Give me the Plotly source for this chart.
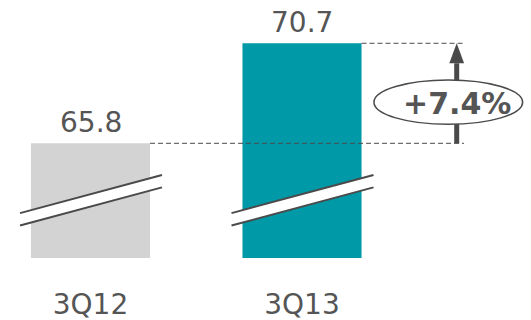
import plotly.graph_objects as go

# Quarterly values
categories = ["3Q12", "3Q13"]
values = [65.8, 70.7]
bar_colors = ["#d3d3d3", "#0099a8"]

W, H = 531, 320
MARGIN_B = 62
PLOT_H = H - MARGIN_B

# Pixel scale of the broken value axis
X0 = 90.5          # pixel centre of the first bar
SX = 211.5         # pixels between bar centres
PPU = 20.41        # pixels per value unit
BASE = 60.18       # value at the bottom of the plot area (axis is broken)
BAR_W = 0.563

TEXT = "#555555"
INK = "#4a4a4a"
FONT = "DejaVu Sans"


def dx(p):
    """horizontal pixel -> x data"""
    return (p - X0) / SX


def dy(p):
    """vertical pixel -> y data"""
    return BASE + (PLOT_H - p) / PPU


fig = go.Figure()
fig.add_trace(go.Bar(
    x=list(range(len(categories))), y=values, width=BAR_W,
    marker=dict(color=bar_colors, line=dict(width=0)),
    hoverinfo="skip",
))

shapes = []
annotations = []

# value labels above bars
for i, v in enumerate(values):
    annotations.append(dict(
        x=i, y=v, xref="x", yref="y", text=f"{v:.1f}", showarrow=False,
        yanchor="bottom", yshift=2,
        font=dict(family=FONT, size=28, color=TEXT),
    ))

# axis-break marks across each bar
for i in range(len(values)):
    cx = X0 + i * SX
    xl, xr = cx - 70.5, cx + 71.5
    yl, yr = 213.1, 175.0
    gap = 12.4
    shapes.append(dict(
        type="path", xref="x", yref="y", layer="above",
        path=(f"M{dx(xl)},{dy(yl)} L{dx(xr)},{dy(yr)} "
              f"L{dx(xr)},{dy(yr + gap)} L{dx(xl)},{dy(yl + gap)} Z"),
        fillcolor="white", line=dict(width=0),
    ))
    for off in (0, gap):
        shapes.append(dict(
            type="line", xref="x", yref="y", layer="above",
            x0=dx(xl), y0=dy(yl + off), x1=dx(xr), y1=dy(yr + off),
            line=dict(color=INK, width=2),
        ))

# dashed reference lines from each bar top
x_end = dx(464)
for i, v in enumerate(values):
    shapes.append(dict(
        type="line", xref="x", yref="y", layer="above",
        x0=i + BAR_W / 2, y0=v, x1=x_end, y1=v,
        line=dict(color=INK, width=1, dash="5px,3px"),
    ))

# growth arrow
ax = dx(456.7)
head_len = 20 / PPU
half_w = 7.4 / SX
shapes.append(dict(
    type="line", xref="x", yref="y", layer="above",
    x0=ax, y0=values[0], x1=ax, y1=values[1] - head_len,
    line=dict(color=INK, width=5),
))
shapes.append(dict(
    type="path", xref="x", yref="y", layer="above",
    path=(f"M{ax - half_w},{values[1] - head_len} L{ax + half_w},{values[1] - head_len} "
          f"L{ax},{values[1]} Z"),
    fillcolor=INK, line=dict(width=0),
))

# growth badge
ecx, ecy, ew, eh = 448.3, 102.2, 148.7, 44.3
shapes.append(dict(
    type="circle", xref="x", yref="y", layer="above",
    x0=dx(ecx - ew / 2), x1=dx(ecx + ew / 2),
    y0=dy(ecy + eh / 2), y1=dy(ecy - eh / 2),
    fillcolor="white", line=dict(color=INK, width=1.5),
))
growth = (values[1] / values[0] - 1) * 100
annotations.append(dict(
    x=ax, y=dy(103), xref="x", yref="y", text=f"<b>+{growth:.1f}%</b>",
    showarrow=False, xanchor="center", yanchor="middle",
    font=dict(family=FONT, size=30, color=TEXT),
))

fig.update_layout(
    width=W, height=H,
    margin=dict(l=0, r=0, t=0, b=MARGIN_B),
    paper_bgcolor="white", plot_bgcolor="white",
    showlegend=False,
    shapes=shapes, annotations=annotations,
    xaxis=dict(
        range=[dx(0), dx(W)], tickvals=list(range(len(categories))),
        ticktext=categories, showgrid=False, zeroline=False, showline=False,
        ticks="", ticklabelstandoff=27,
        tickfont=dict(family=FONT, size=28, color=TEXT),
        fixedrange=True,
    ),
    yaxis=dict(
        range=[BASE, dy(0)], visible=False, showgrid=False, zeroline=False,
        fixedrange=True,
    ),
)

fig.write_html("out.html", config={"displayModeBar": False})
